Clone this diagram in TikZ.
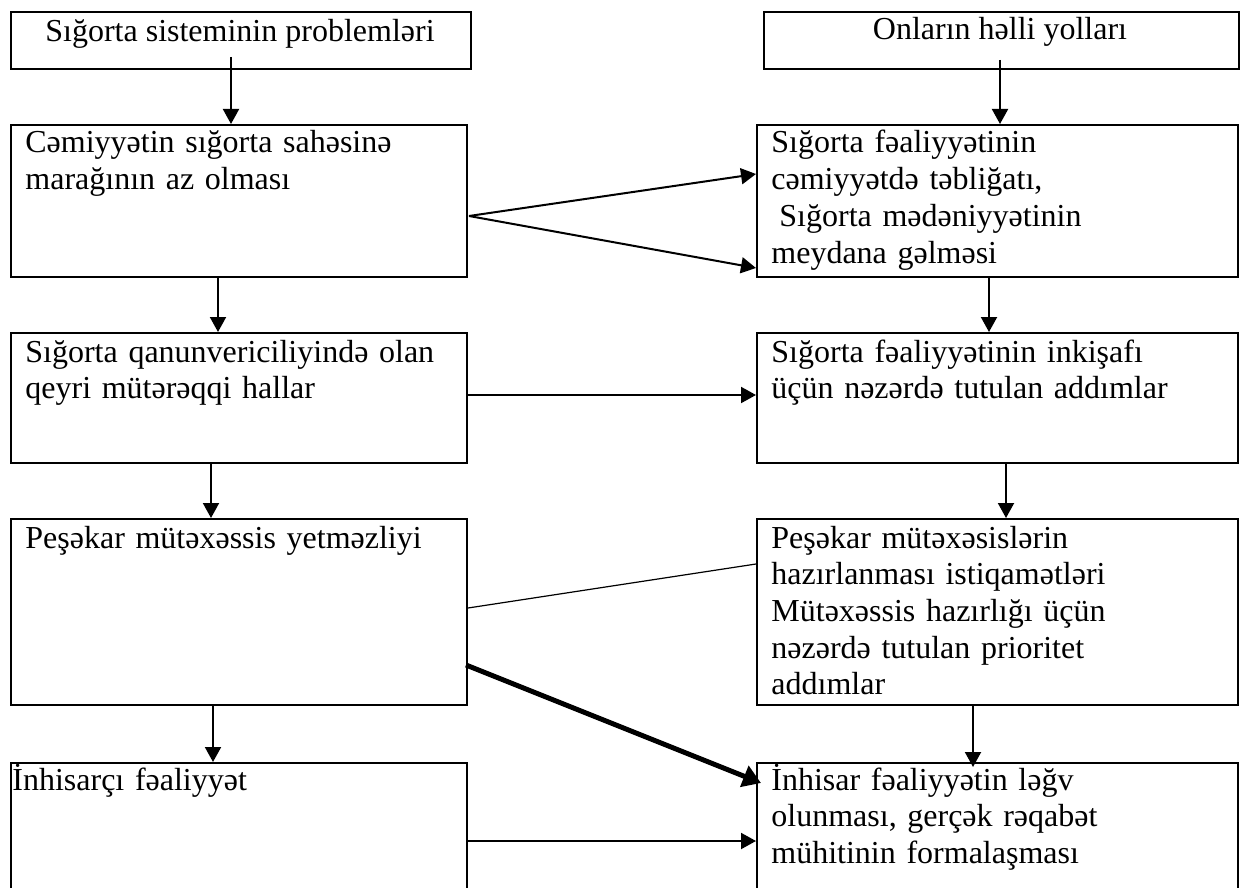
\documentclass[tikz,border=0pt]{standalone}
\usepackage{fontspec}
\setmainfont{Liberation Serif}
\usetikzlibrary{arrows.meta}
\tikzset{
  box/.style={draw, line width=1pt, inner sep=0pt, anchor=north west},
  txt/.style={inner sep=0pt, anchor=base west, align=left, text width=230pt,
    font=\fontsize{16pt}{18.35pt}\selectfont},
  ttl/.style={inner sep=0pt, anchor=base, font=\fontsize{16pt}{18.35pt}\selectfont},
  arr/.style={line width=1pt, -{Triangle[length=7.5pt,width=8pt]}},
  thin/.style={line width=0.6pt},
  thick/.style={line width=2.5pt, -{Triangle[length=9pt,width=11pt]}}
}
\begin{document}
\begin{tikzpicture}[x=0.5pt,y=-0.5pt]
\useasboundingbox (0,0) rectangle (1243,888);
\clip (0,0) rectangle (1243,888);
% boxes
\node[box, minimum width=230pt, minimum height=28.5pt] (tl) at (10,11) {};
\node[box, minimum width=237.5pt, minimum height=28.5pt] (tr) at (763,11) {};
\node[box, minimum width=228pt, minimum height=76pt] (l1) at (10,124) {};
\node[box, minimum width=240.5pt, minimum height=76pt] (r1) at (756,124) {};
\node[box, minimum width=228pt, minimum height=65pt] (l2) at (10,332) {};
\node[box, minimum width=240.5pt, minimum height=65pt] (r2) at (756,332) {};
\node[box, minimum width=228pt, minimum height=93pt] (l3) at (10,518) {};
\node[box, minimum width=240.5pt, minimum height=93pt] (r3) at (756,518) {};
\node[box, minimum width=228pt, minimum height=68pt] (l4) at (10,762) {};
\node[box, minimum width=240.5pt, minimum height=68pt] (r4) at (756,762) {};
% texts
\node[ttl] (tlt) at (240,42) {Sığorta sisteminin problemləri};
\node[ttl] (trt) at (1000,40) {Onların həlli yolları};
\node[txt] (l1t) at (25,153) {Cəmiyyətin sığorta sahəsinə\\marağının az olması};
\node[txt] (r1t) at (771,153) {Sığorta fəaliyyətinin\\cəmiyyətdə təbliğatı,\\\hspace*{4pt}Sığorta mədəniyyətinin\\meydana gəlməsi};
\node[txt] (l2t) at (25,362) {Sığorta qanunvericiliyində olan\\qeyri mütərəqqi hallar};
\node[txt] (r2t) at (771,362) {Sığorta fəaliyyətinin inkişafı\\üçün nəzərdə tutulan addımlar};
\node[txt] (l3t) at (25,548) {Peşəkar mütəxəssis yetməzliyi};
\node[txt] (r3t) at (771,548) {Peşəkar mütəxəsislərin\\hazırlanması istiqamətləri\\Mütəxəssis hazırlığı üçün\\nəzərdə tutulan prioritet\\addımlar};
\node[txt] (l4t) at (12,790) {İnhisarçı fəaliyyət};
\node[txt] (r4t) at (771,790) {İnhisar fəaliyyətin ləğv\\olunması, gerçək rəqabət\\mühitinin formalaşması};
% vertical arrows
\draw[arr] ([xshift=-5pt,yshift=6.5pt]tl.south) -- ([xshift=-4pt]l1.north);
\draw[arr] ([xshift=-0.75pt,yshift=5pt]tr.south) -- ([xshift=1.25pt]r1.north);
\draw[arr] ([xshift=-10.5pt]l1.south) -- ([xshift=-10.5pt]l2.north);
\draw[arr] ([xshift=-4.25pt]r1.south) -- ([xshift=-4.25pt]r2.north);
\draw[arr] ([xshift=-14pt]l2.south) -- ([xshift=-14pt]l3.north);
\draw[arr] ([xshift=4.25pt]r2.south) -- ([xshift=4.25pt]r3.north);
\draw[arr] ([xshift=-13pt]l3.south) -- ([xshift=-13pt]l4.north);
\draw[arr] ([xshift=-12.25pt]r3.south) -- ([xshift=-12.25pt,yshift=-2.5pt]r4.north);
% horizontal / diagonal connectors
\draw[arr] ([xshift=0.5pt,yshift=-7.5pt]l1.east) -- ([yshift=13.5pt]r1.west);
\draw[arr] ([xshift=0.5pt,yshift=-7.5pt]l1.east) -- ([yshift=-33.5pt]r1.west);
\draw[arr] ([yshift=1.5pt]l2.east) -- ([yshift=1.5pt]r2.west);
\draw[thin] ([yshift=2pt]l3.east) -- ([yshift=24pt]r3.west);
\draw[thick] ([xshift=-1pt,yshift=-26.5pt]l3.east) -- ([xshift=2.5pt,yshift=-10.5pt]r4.north west);
\draw[arr] ([yshift=-39.5pt]l4.north east) -- ([yshift=-39.5pt]r4.north west);
\end{tikzpicture}
\end{document}
